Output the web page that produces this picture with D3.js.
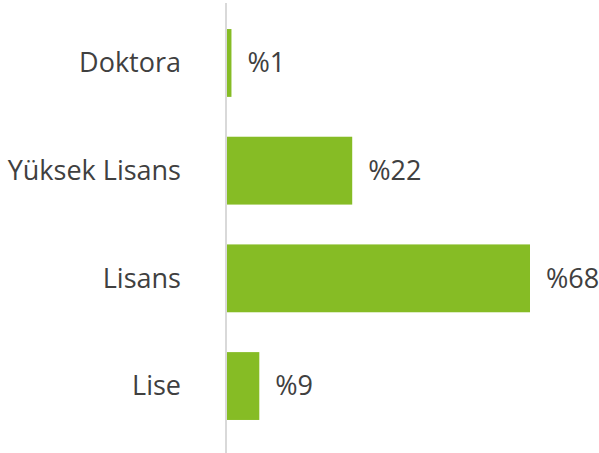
<!DOCTYPE html>
<html>
<head>
<meta charset="utf-8">
<script src="https://cdn.jsdelivr.net/npm/d3@7"></script>
<style>
  body { margin: 0; background: #fff; }
  text { font-family: "Open Sans", sans-serif; fill: #404040; }
</style>
</head>
<body>
<div id="chart"></div>
<script>
// categories top to bottom
var categories = ["Doktora", "Yüksek Lisans", "Lisans", "Lise"];
// bar lengths as drawn
var barValues = [1, 28.1, 68, 7.25];
// printed labels
var valueLabels = ["%1", "%22", "%68", "%9"];

var width = 599, height = 453;

var svg = d3.select("#chart").append("svg")
    .attr("width", width)
    .attr("height", height);

var x = d3.scaleLinear()
    .domain([0, 68])
    .range([227, 530]);

var y = d3.scaleBand()
    .domain(categories)
    .range([7.5, 441.5])
    .paddingInner(0.37)
    .paddingOuter(0.2);

var data = categories.map(function(c, i){
  return {cat: c, val: barValues[i], lab: valueLabels[i]};
});

// bars
svg.selectAll(".bar")
    .data(data)
  .enter().append("rect")
    .attr("class", "bar")
    .attr("x", x(0))
    .attr("y", function(d){ return y(d.cat); })
    .attr("width", function(d){ return x(d.val) - x(0); })
    .attr("height", y.bandwidth())
    .attr("fill", "#86bc25");

// vertical axis line
svg.append("line")
    .attr("x1", x(0) - 1).attr("x2", x(0) - 1)
    .attr("y1", 3).attr("y2", height)
    .attr("stroke", "#d9d9d9")
    .attr("stroke-width", 2);

// category labels
svg.selectAll(".cat")
    .data(data)
  .enter().append("text")
    .attr("class", "cat")
    .attr("x", x(0) - 46)
    .attr("y", function(d){ return y(d.cat) + y.bandwidth()/2; })
    .attr("dy", "0.35em")
    .attr("text-anchor", "end")
    .style("font-size", "27px")
    .text(function(d){ return d.cat; });

// value labels
svg.selectAll(".val")
    .data(data)
  .enter().append("text")
    .attr("class", "val")
    .attr("x", function(d){ return x(d.val) + 16; })
    .attr("y", function(d){ return y(d.cat) + y.bandwidth()/2; })
    .attr("dy", "0.35em")
    .style("font-size", "27px")
    .text(function(d){ return d.lab; });
</script>
</body>
</html>
